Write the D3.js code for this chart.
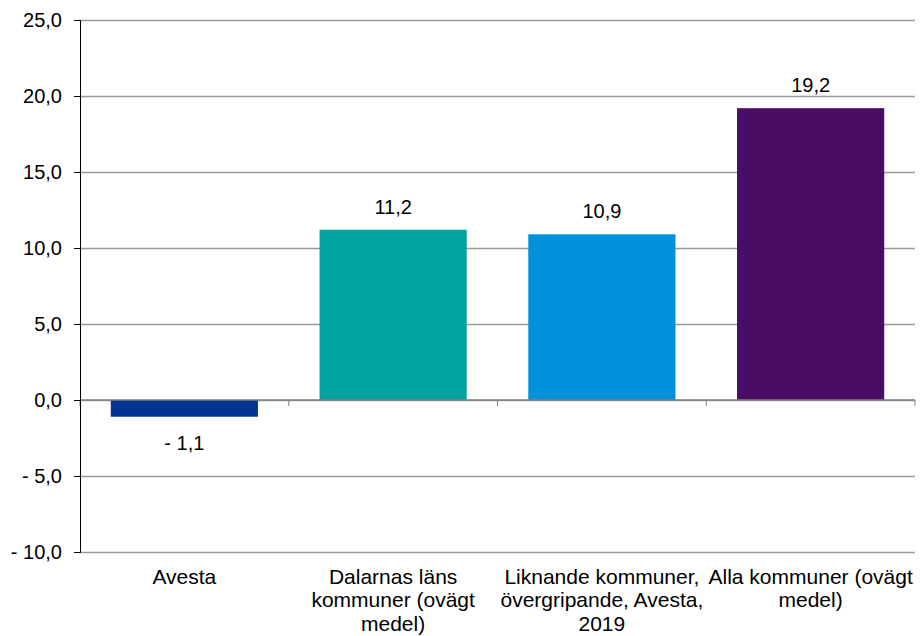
<!DOCTYPE html>
<html>
<head>
  <meta charset="utf-8">
  <style type="text/css">
    body { margin: 0; background: #fff; }
    svg { font-family: "Liberation Sans", Arial, sans-serif; }
    .axis text { font-size: 20px; fill: #000; }
    .y.axis path { stroke: #000; }
    .y.axis line { stroke: #000; }
    .grid line { stroke: #999; stroke-width: 1.5px; }
    .grid path { display: none; }
    .label { font-size: 21px; fill: #000; text-anchor: middle; }
    .val { font-size: 20px; }
  </style>
</head>
<body>
  <script src="https://d3js.org/d3.v7.min.js"></script>
  <script>
    // data
    var categories = [
      ["Avesta"],
      ["Dalarnas läns", "kommuner (ovägt", "medel)"],
      ["Liknande kommuner,", "övergripande, Avesta,", "2019"],
      ["Alla kommuner (ovägt", "medel)"]
    ];
    var values = [-1.1, 11.2, 10.9, 19.2];
    var colors = ["#003591", "#00A39F", "#0091DA", "#4A0D66"];
    var yTicks = [-10, -5, 0, 5, 10, 15, 20, 25];

    var margin = {top: 20, right: 5, bottom: 84, left: 80};
    var width = 920 - margin.left - margin.right;
    var height = 636 - margin.top - margin.bottom;

    var x = d3.scaleBand()
      .domain(d3.range(values.length))
      .range([0, width])
      .paddingInner(0.295)
      .paddingOuter(0.1475);

    var y = d3.scaleLinear()
      .domain([-10, 25])
      .range([height, 0]);

    var fmt = function(v) {
      var s = Math.abs(v).toFixed(1).replace(".", ",");
      return v < 0 ? "- " + s : s;
    };

    var svg = d3.select("body").append("svg")
      .attr("width", 920)
      .attr("height", 636)
      .append("g")
      .attr("transform", "translate(" + margin.left + "," + margin.top + ")");

    // gridlines
    svg.append("g")
      .attr("class", "grid")
      .call(d3.axisLeft(y).tickValues(yTicks).tickSize(-width).tickFormat(""));

    // bars
    svg.selectAll(".bar")
      .data(values)
      .enter().append("rect")
      .attr("class", "bar")
      .attr("x", function(d, i) { return x(i); })
      .attr("width", x.bandwidth())
      .attr("y", function(d) { return y(Math.max(0, d)); })
      .attr("height", function(d) { return Math.abs(y(d) - y(0)); })
      .attr("fill", function(d, i) { return colors[i]; });

    // zero axis with category separators
    var zero = svg.append("g").attr("class", "x axis")
      .attr("transform", "translate(0," + y(0) + ")");
    zero.append("line").attr("x1", 0).attr("x2", width)
      .attr("stroke", "#808080").attr("stroke-width", 1.5);
    zero.selectAll(".sep")
      .data(d3.range(values.length + 1))
      .enter().append("line")
      .attr("x1", function(i) { return i * x.step(); })
      .attr("x2", function(i) { return i * x.step(); })
      .attr("y1", 0).attr("y2", 6)
      .attr("stroke", "#808080");

    // y axis
    svg.append("g")
      .attr("class", "y axis")
      .call(d3.axisLeft(y).tickValues(yTicks).tickSize(6).tickPadding(12).tickFormat(fmt));

    // value labels
    svg.selectAll(".val")
      .data(values)
      .enter().append("text")
      .attr("class", "label val")
      .attr("x", function(d, i) { return x(i) + x.bandwidth() / 2; })
      .attr("y", function(d) { return d >= 0 ? y(d) - 16 : y(d) + 33; })
      .text(fmt);

    // category labels
    var cat = svg.selectAll(".cat")
      .data(categories)
      .enter().append("text")
      .attr("class", "label")
      .attr("x", function(d, i) { return x(i) + x.bandwidth() / 2; })
      .attr("y", height + 32);
    cat.selectAll("tspan")
      .data(function(d) { return d; })
      .enter().append("tspan")
      .attr("x", function() { return d3.select(this.parentNode).attr("x"); })
      .attr("dy", function(d, j) { return j === 0 ? 0 : 23.3; })
      .text(function(d) { return d; });
  </script>
</body>
</html>
